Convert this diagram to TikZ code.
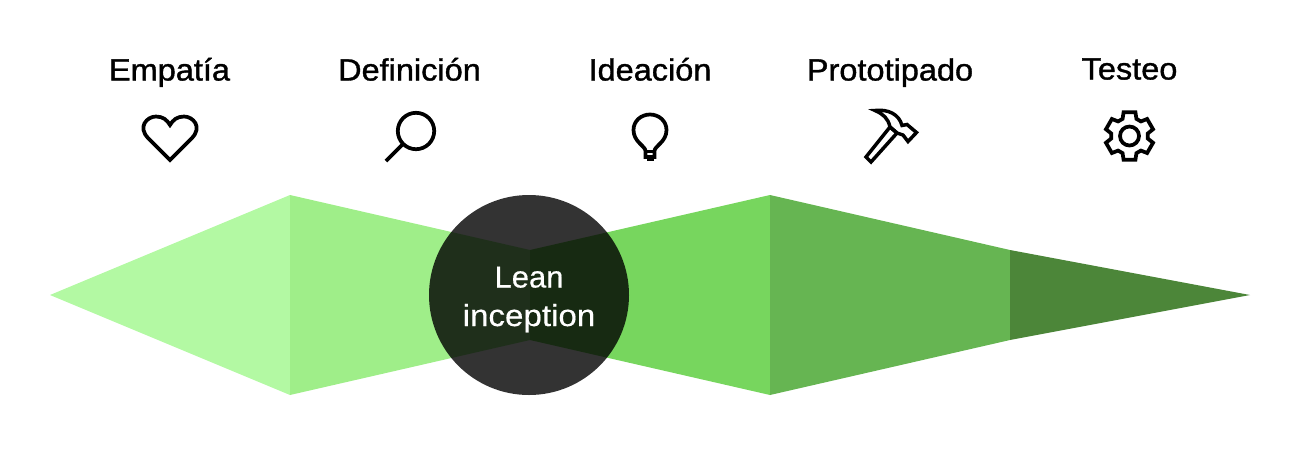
\documentclass[tikz,border=0pt]{standalone}
\usepackage{fontspec}
\setmainfont[FakeBold=1.2,FakeStretch=1.06]{Liberation Sans}
\newfontfamily\leanfont[FakeBold=0.4,FakeStretch=1.02]{Liberation Sans}
\newfontfamily\incfont[FakeBold=0.4,FakeStretch=1.09]{Liberation Sans}
\tikzset{
  x=0.75pt,y=-0.75pt,
  band/.style={fill=#1,draw=none},
  icon/.style={draw=black,line width=2.8pt,line join=miter,fill=none},
  title/.style={anchor=base,text=black,font=\fontsize{23pt}{24pt}\selectfont,inner sep=0pt},
  inner/.style={anchor=base,text=white,inner sep=0pt}
}
\definecolor{b1}{HTML}{B3F9A3}
\definecolor{b2}{HTML}{9FEE89}
\definecolor{b3}{HTML}{77D65E}
\definecolor{b4}{HTML}{66B552}
\definecolor{b5}{HTML}{4C8639}
\begin{document}
\begin{tikzpicture}
\useasboundingbox (0,0) rectangle (1300,451);
\fill[band=b1] (50,295) -- (290,195) -- (290,395) -- cycle;
\fill[band=b2] (290,195) -- (530,250) -- (530,340) -- (290,395) -- cycle;
\fill[band=b3] (530,250) -- (770,195) -- (770,395) -- (530,340) -- cycle;
\fill[band=b4] (770,195) -- (1010,250) -- (1010,340) -- (770,395) -- cycle;
\fill[band=b5] (1010,250) -- (1250,295) -- (1010,340) -- cycle;
\node[circle,fill=black,fill opacity=0.8,minimum size=150pt,inner sep=0pt,draw=none] (lean) at (529,295) {};
\node[inner,font=\leanfont\fontsize{22.8pt}{24pt}\selectfont] (l1) at (529,287.5) {Lean};
\node[inner,font=\incfont\fontsize{22.8pt}{24pt}\selectfont] (l2) at (529,326) {inception};
\node[title] (t1) at (169.5,80.5) {Empatía};
\node[title] (t2) at (409.5,80.5) {Definición};
\node[title] (t3) at (650,80.5) {Ideación};
\node[title] (t4) at (890,80.5) {Prototipado};
\node[title] (t5) at (1129.5,79.5) {Testeo};
% heart
\draw[icon] (170,160) -- (148.5,138.5) .. controls (137,127) and (147,116.5) .. (156,116.5) .. controls (163,116.5) and (167,120) .. (170,125) .. controls (173,120) and (177,116.5) .. (184,116.5) .. controls (193,116.5) and (203,127) .. (191.5,138.5) -- cycle;
% magnifier
\draw[icon] (416,131) circle (18.2);
\draw[icon] (403,144) -- (386,161);
% bulb
\draw[icon] (645.5,151) .. controls (645.5,146) and (633.5,142) .. (633.5,130) .. controls (633.5,121) and (641,114.5) .. (650,114.5) .. controls (659,114.5) and (666.5,121) .. (666.5,130) .. controls (666.5,142) and (654.5,146) .. (654.5,151) -- (654.5,157) -- (645.5,157) -- cycle;
\draw[icon,line width=1.6pt] (645.5,151.5) -- (654.5,151.5);
\fill (646.5,157) rectangle (653.5,160.5);
% hammer
\draw[icon,line width=2.6pt] (866,157) -- (871,162) -- (897,133) -- (890,127) -- cycle;
\draw[icon,line width=2.6pt] (875,110.5) .. controls (888,109) and (899,114) .. (902,125.5) -- (907,124.5) -- (916.5,132.5) -- (908,141.5) -- (903,135) -- (897,133) -- (890,127) .. controls (888,118) and (883,114) .. (875,110.5) -- cycle;
% gear
\begin{scope}[shift={(1129.5,136)}]
\draw[icon] (76:24.5)
  \foreach \a in {90,150,210,270,330,30}{ -- ({\a-14}:24.5) -- ({\a+14}:24.5) -- ({\a+22}:18.5) -- ({\a+38}:18.5) } -- cycle;
\draw[icon] (0,0) circle (9.5);
\end{scope}
\end{tikzpicture}
\end{document}
